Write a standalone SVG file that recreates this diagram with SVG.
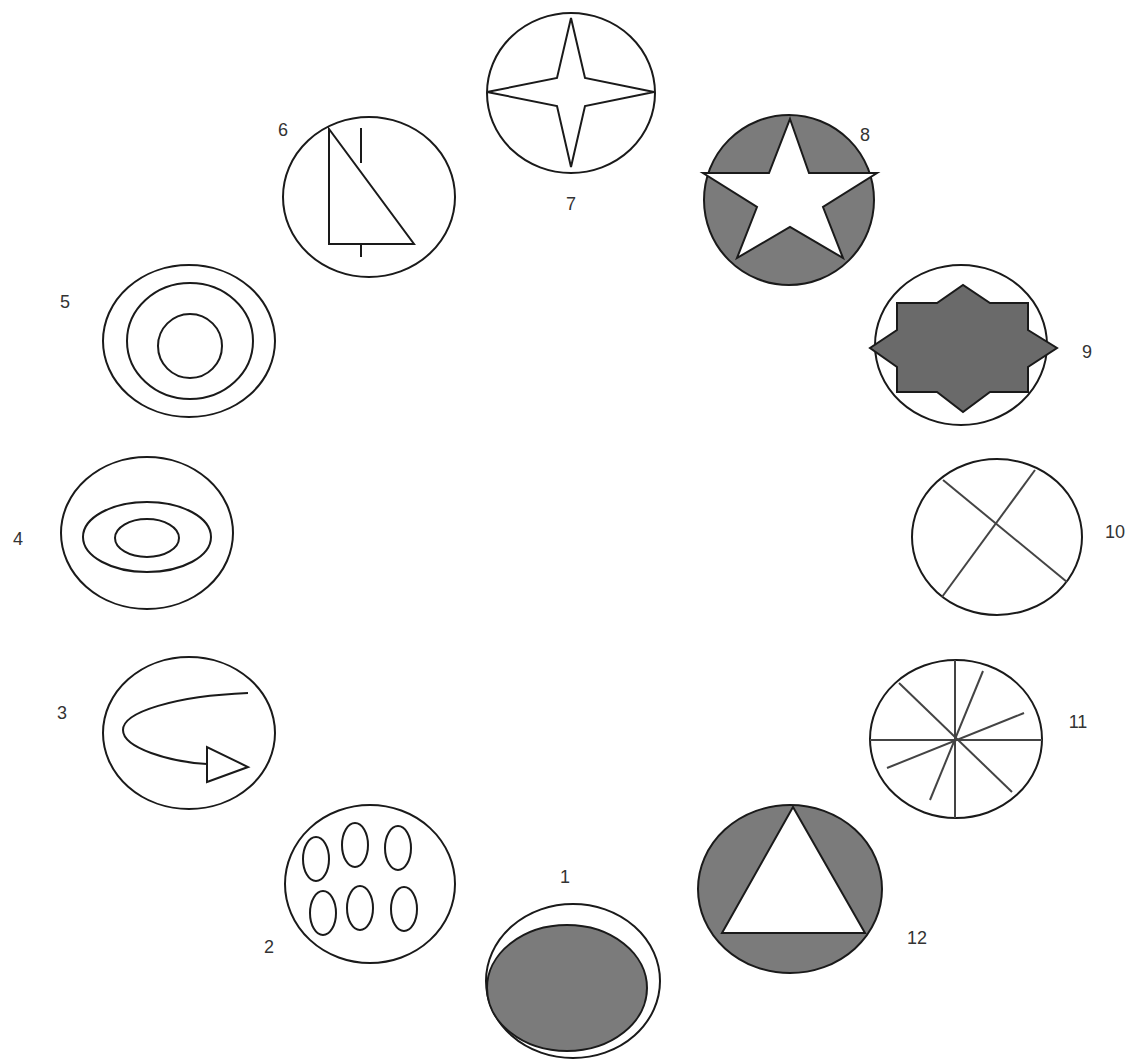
<svg xmlns="http://www.w3.org/2000/svg" width="1142" height="1063" viewBox="0 0 1142 1063">
<style>
.o{fill:none;stroke:#1a1a1a;stroke-width:2}
.w{fill:#fff;stroke:#1a1a1a;stroke-width:2;stroke-linejoin:miter}
.g{fill:#7b7b7b;stroke:#1a1a1a;stroke-width:2}
.d{fill:#6a6a6a;stroke:#1a1a1a;stroke-width:2}
.l{stroke:#444;stroke-width:2;fill:none}
.t{font-family:"Liberation Sans",Arial,sans-serif;font-size:18px;fill:#333;text-anchor:middle}
</style>
<rect width="1142" height="1063" fill="#fff"/>
<g id="node1">
<ellipse class="o" cx="573" cy="981" rx="87" ry="77"/>
<ellipse class="g" cx="567" cy="988" rx="80" ry="63"/>
<text class="t" x="565" y="883">1</text>
</g>
<g id="node2">
<ellipse class="o" cx="370" cy="884" rx="85" ry="79"/>
<ellipse class="o" cx="316" cy="859" rx="13" ry="22"/>
<ellipse class="o" cx="355" cy="845" rx="13" ry="22"/>
<ellipse class="o" cx="398" cy="848" rx="13" ry="22"/>
<ellipse class="o" cx="323" cy="913" rx="13" ry="22"/>
<ellipse class="o" cx="360" cy="908" rx="13" ry="22"/>
<ellipse class="o" cx="404" cy="909" rx="13" ry="22"/>
<text class="t" x="269" y="953">2</text>
</g>
<g id="node3">
<ellipse class="o" cx="189" cy="733" rx="86" ry="76"/>
<path class="o" d="M248,693 C175,696 123,712 123,730 C123,748 170,762 207,764" stroke-width="2.5"/>
<polygon class="w" points="207,747 207,782 248,767"/>
<text class="t" x="62" y="719">3</text>
</g>
<g id="node4">
<ellipse class="o" cx="147" cy="533" rx="86" ry="76"/>
<ellipse class="o" cx="147" cy="537" rx="64" ry="35"/>
<ellipse class="o" cx="147" cy="538" rx="32" ry="19"/>
<text class="t" x="18" y="545">4</text>
</g>
<g id="node5">
<ellipse class="o" cx="189" cy="341" rx="86" ry="76"/>
<ellipse class="o" cx="190" cy="341" rx="63" ry="58"/>
<circle class="o" cx="190" cy="346" r="32"/>
<text class="t" x="65" y="308">5</text>
</g>
<g id="node6">
<ellipse class="o" cx="369" cy="197" rx="86" ry="80"/>
<polygon class="o" points="329,129 329,244 414,244"/>
<line class="o" x1="361" y1="128" x2="361" y2="163"/>
<line class="o" x1="361" y1="244" x2="361" y2="257"/>
<text class="t" x="283" y="136">6</text>
</g>
<g id="node7">
<ellipse class="o" cx="571" cy="93" rx="84" ry="80"/>
<polygon class="w" points="571,18 585,78 654,92 585,106 571,167 557,106 487,92 557,78"/>
<text class="t" x="571" y="210">7</text>
</g>
<g id="node8">
<circle class="g" cx="789" cy="200" r="85"/>
<polygon class="w" points="790,119 809,173 877,173 823,207 843,258 790,227 737,258 757,207 703,173 769,173"/>
<text class="t" x="865" y="141">8</text>
</g>
<g id="node9">
<ellipse class="o" cx="961" cy="345" rx="86" ry="80"/>
<polygon class="d" points="897,303 937,303 963,285 990,303 1028,303 1028,330 1057,348 1028,367 1028,392 990,392 963,412 937,392 897,392 897,367 870,348 897,330"/>
<text class="t" x="1087" y="358">9</text>
</g>
<g id="node10">
<ellipse class="o" cx="997" cy="537" rx="85" ry="78"/>
<line class="l" x1="943" y1="480" x2="1067" y2="582"/>
<line class="l" x1="1035" y1="470" x2="942" y2="597"/>
<text class="t" x="1115" y="538">10</text>
</g>
<g id="node11">
<ellipse class="o" cx="956" cy="739" rx="86" ry="79"/>
<line class="l" x1="955" y1="660" x2="955" y2="818"/>
<line class="l" x1="870" y1="740" x2="1042" y2="740"/>
<line class="l" x1="899" y1="683" x2="1012" y2="792"/>
<line class="l" x1="983" y1="671" x2="930" y2="800"/>
<line class="l" x1="1024" y1="713" x2="887" y2="768"/>
<text class="t" x="1078" y="728">11</text>
</g>
<g id="node12">
<ellipse class="g" cx="790" cy="889" rx="92" ry="84"/>
<polygon class="w" points="793,807 865,933 722,933"/>
<text class="t" x="917" y="944">12</text>
</g>
<g id="connectors"></g>
</svg>
